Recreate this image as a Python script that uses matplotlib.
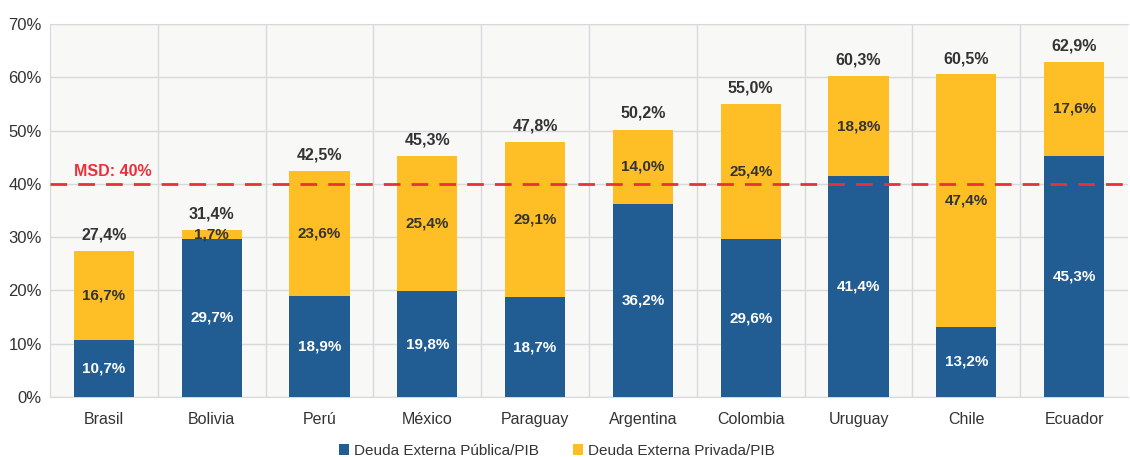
import matplotlib.pyplot as plt
import numpy as np

paises = ['Brasil', 'Bolivia', 'Perú', 'México', 'Paraguay', 'Argentina',
          'Colombia', 'Uruguay', 'Chile', 'Ecuador']
publica = [10.7, 29.7, 18.9, 19.8, 18.7, 36.2, 29.6, 41.4, 13.2, 45.3]
privada = [16.7, 1.7, 23.6, 25.4, 29.1, 14.0, 25.4, 18.8, 47.4, 17.6]
total = [27.4, 31.4, 42.5, 45.3, 47.8, 50.2, 55.0, 60.3, 60.5, 62.9]
msd = 40

azul = '#215C93'
amarillo = '#FDBE26'
rojo = '#E8313A'
gris_texto = '#333333'

plt.rcParams['font.family'] = ['Liberation Sans', 'DejaVu Sans']

fig = plt.figure(figsize=(11.3, 4.57), dpi=100)
ax = fig.add_axes([50 / 1130, 1 - 397 / 457, 1078 / 1130, 373 / 457])
ax.set_facecolor('#F8F8F7')

x = np.arange(len(paises))
ancho = 0.56
ax.bar(x, publica, ancho, color=azul, label='Deuda Externa Pública/PIB', zorder=3)
ax.bar(x, privada, ancho, bottom=publica, color=amarillo,
       label='Deuda Externa Privada/PIB', zorder=3)

for i in range(len(paises)):
    ax.text(x[i], publica[i] / 2, f'{publica[i]:.1f}%'.replace('.', ','),
            ha='center', va='center', color='white', fontsize=11, fontweight='bold', zorder=4)
    ax.text(x[i], publica[i] + privada[i] / 2, f'{privada[i]:.1f}%'.replace('.', ','),
            ha='center', va='center', color=gris_texto, fontsize=11, fontweight='bold', zorder=4)
    ax.text(x[i], total[i] + 1.6, f'{total[i]:.1f}%'.replace('.', ','),
            ha='center', va='bottom', color=gris_texto, fontsize=11.5, fontweight='bold', zorder=4)

# linea MSD
ax.axhline(msd, color=rojo, linestyle=(0, (6, 4)), linewidth=2, zorder=5)
ax.text(-0.28, msd + 1.0, 'MSD: 40%', color=rojo, fontsize=11.5, fontweight='bold',
        ha='left', va='bottom', zorder=5)

ax.set_xlim(-0.5, len(paises) - 0.5)
ax.set_ylim(0, 70)
ax.set_yticks(range(0, 71, 10))
ax.set_yticklabels([f'{v}%' for v in range(0, 71, 10)], fontsize=12, color=gris_texto)
ax.set_xticks(x)
ax.set_xticklabels(paises, fontsize=11.5, color=gris_texto)
ax.tick_params(axis='y', length=0, pad=6)
ax.tick_params(axis='x', length=0, pad=11)

ax.set_xticks(np.arange(0.5, len(paises) - 0.5, 1), minor=True)
ax.tick_params(which='minor', length=0)
ax.grid(True, axis='y', color='#D9D9D9', linewidth=1, zorder=0)
ax.grid(True, axis='x', which='minor', color='#D9D9D9', linewidth=1, zorder=0)
ax.grid(False, axis='x', which='major')
for s in ax.spines.values():
    s.set_color('#D9D9D9')
ax.spines['right'].set_visible(False)

ax.legend(loc='center', bbox_to_anchor=(0.47, -54 / 373), ncol=2, frameon=False,
          fontsize=11, handlelength=0.7, handleheight=0.7, handletextpad=0.3,
          columnspacing=2.2, labelcolor=gris_texto)

fig.savefig('out.png', dpi=100)
